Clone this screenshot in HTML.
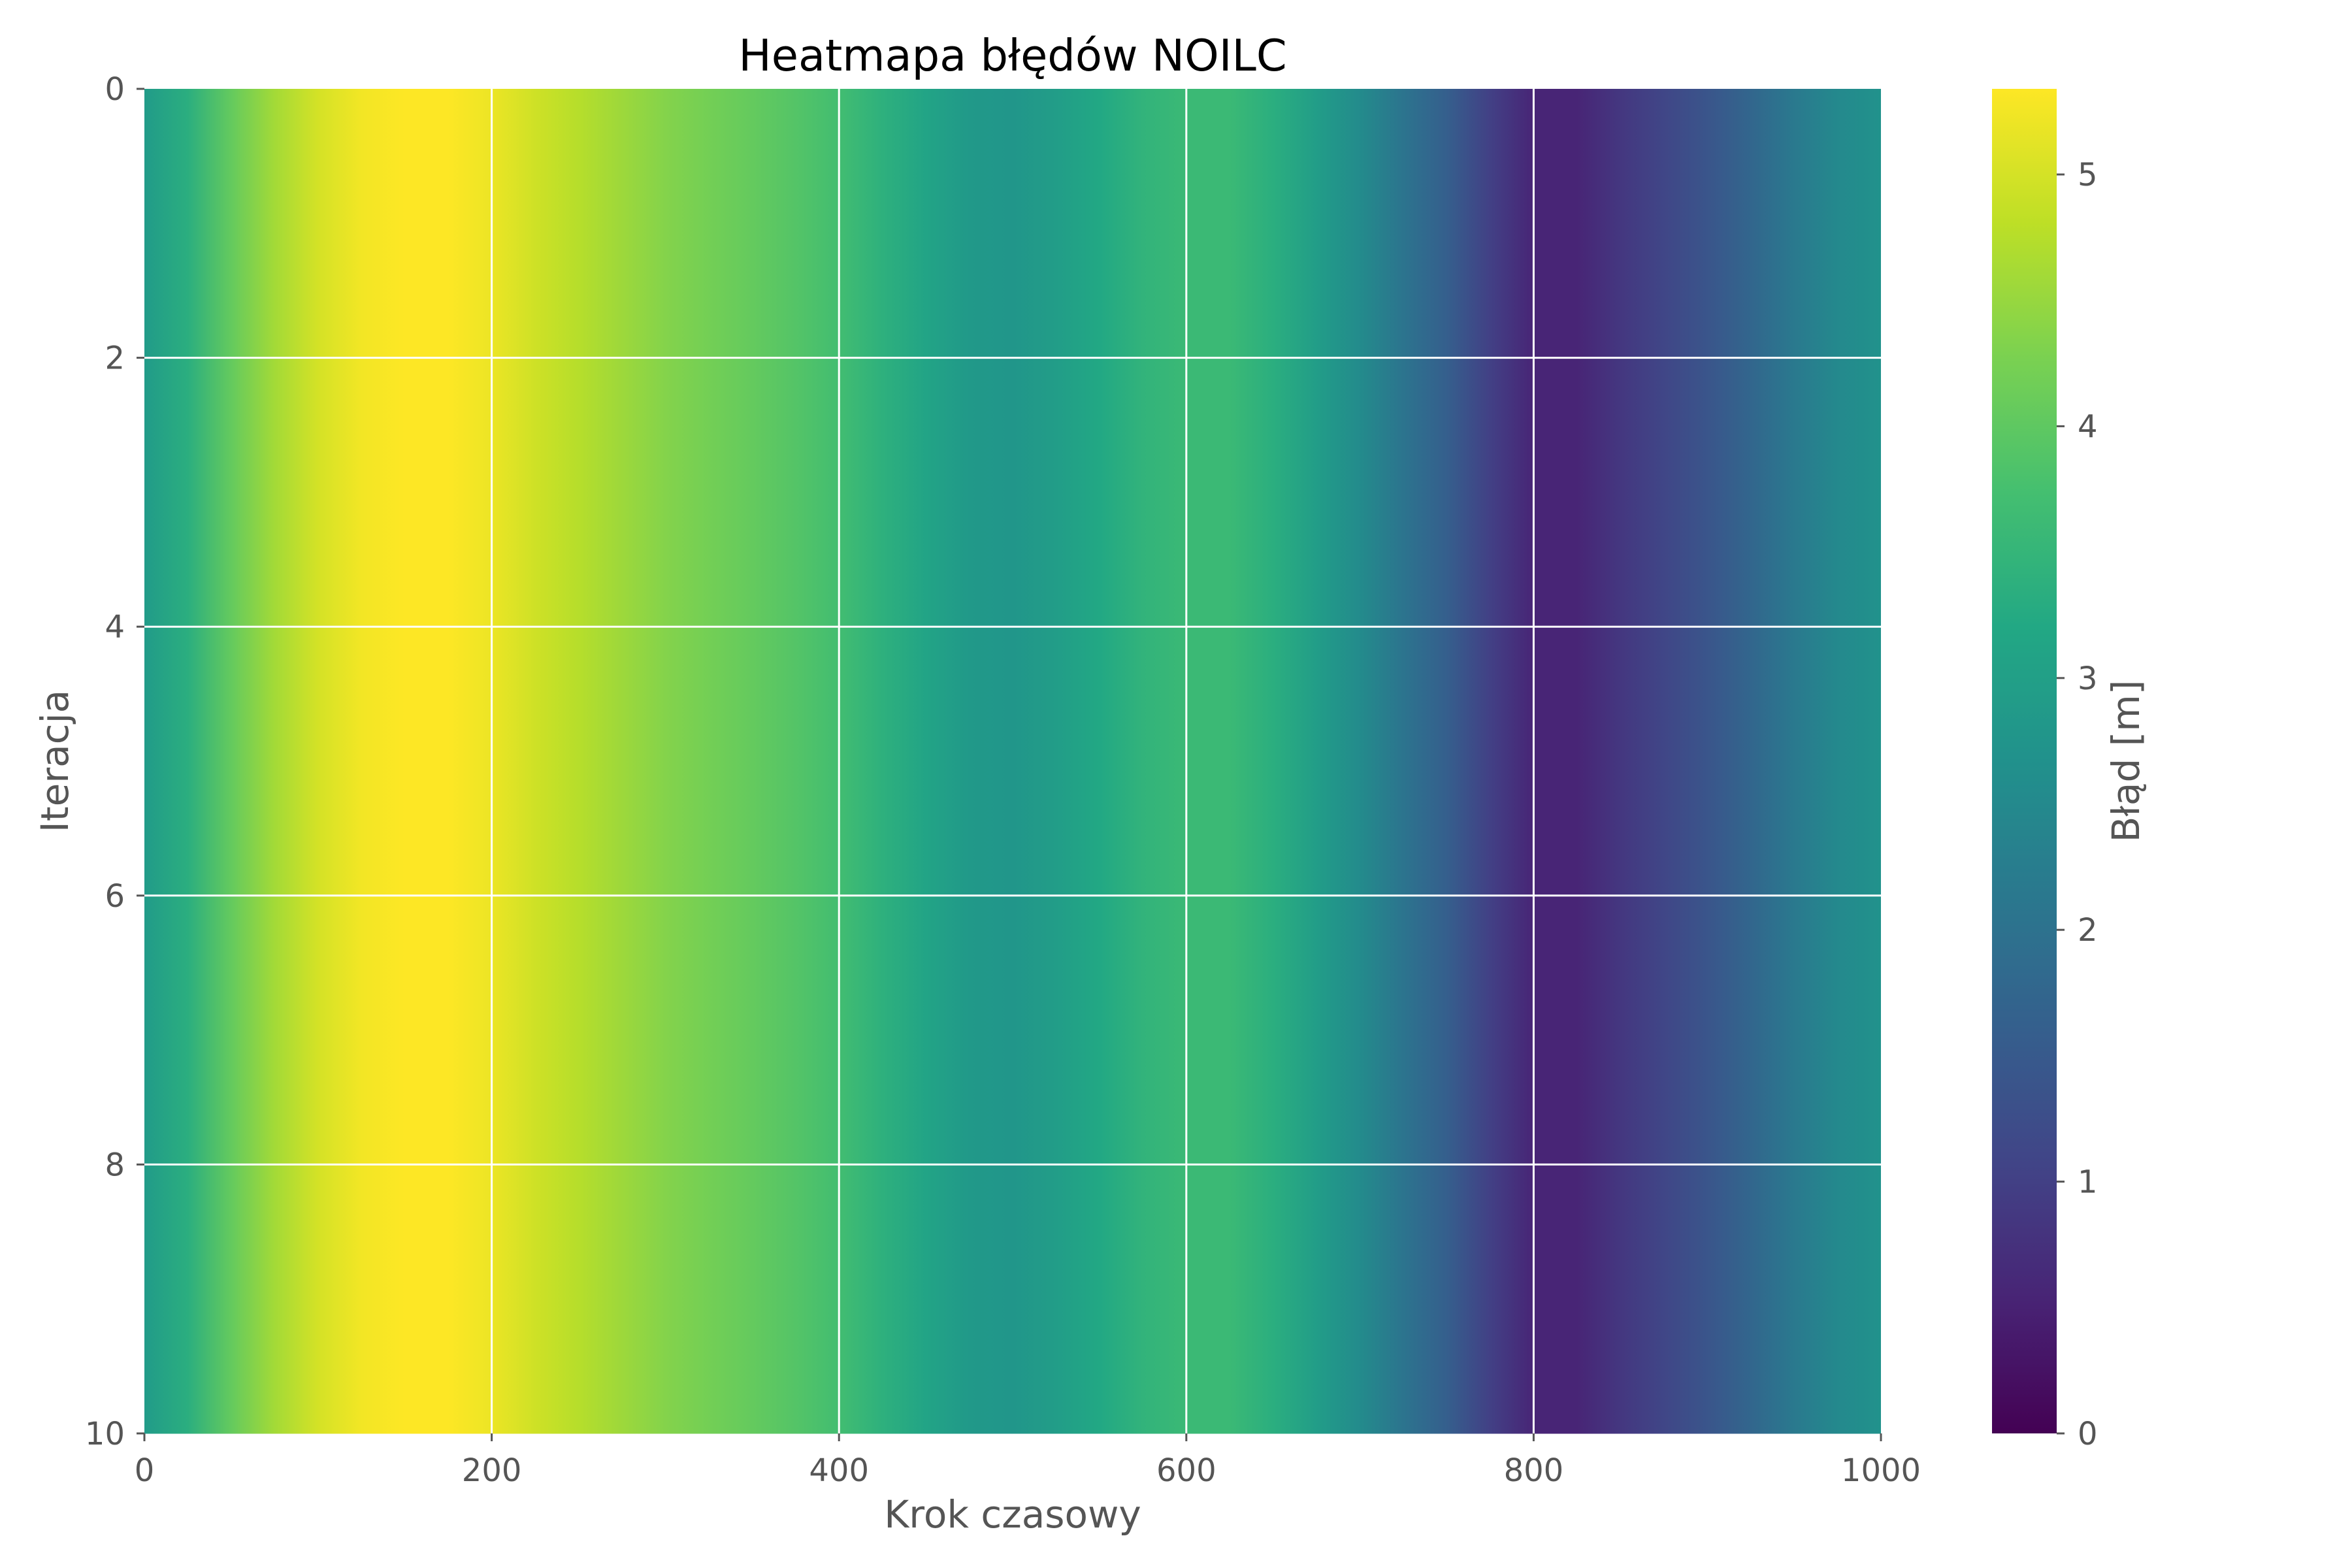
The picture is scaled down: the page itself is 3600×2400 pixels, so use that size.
<!DOCTYPE html>
<html><head><meta charset="utf-8"><style>
html,body{margin:0;padding:0;background:#fff;}
svg{display:block;font-family:"DejaVu Sans","Liberation Sans",sans-serif;}
</style></head><body>
<svg id="chart" width="3600" height="2400" viewBox="0 0 3600 2400" xmlns="http://www.w3.org/2000/svg">
<defs id="defs"></defs>
<text x="1550" y="108" font-size="67" text-anchor="middle" fill="#000">Heatmapa błędów NOILC</text>
<g id="heat"></g>
<g id="grid"></g>
<g id="axes"></g>
<text x="1550" y="2338" font-size="58" text-anchor="middle" fill="#555">Krok czasowy</text>
<text transform="translate(104,1165) rotate(-90)" font-size="58" text-anchor="middle" fill="#555">Iteracja</text>
<g id="cbar"></g>
<text transform="translate(3274,1165) rotate(-90)" font-size="58" text-anchor="middle" fill="#555">Błąd [m]</text>
</svg>
<script>
const steps = [0,25,50,75,100,125,150,175,200,225,250,275,300,325,350,375,400,425,450,475,500,525,550,575,600,625,650,675,700,725,750,775,800,825,850,875,900,925,950,975,1000];
const errorProfile = [2.9,3.35,4.05,4.6,5.0,5.25,5.34,5.34,5.2,4.95,4.75,4.55,4.35,4.2,4.05,3.9,3.7,3.4,3.1,2.85,2.78,2.95,3.2,3.45,3.6,3.6,3.35,2.95,2.55,2.05,1.6,1.0,0.55,0.55,0.85,1.1,1.4,1.75,2.15,2.5,2.7];
const iterations = [0,1,2,3,4,5,6,7,8,9];
const xTicks = [0,200,400,600,800,1000];
const yTicks = [0,2,4,6,8,10];
const cbTicks = [0,1,2,3,4,5];
const vmin = 0, vmax = 5.34;

const L=221,R=2879,T=136,B=2194;
const xs = v => L + (v-0)/(1000-0)*(R-L);
const ys = v => T + v/10*(B-T);
const CBL=3049,CBR=3148;
const cs = v => B - (v-vmin)/(vmax-vmin)*(B-T);
const NS="http://www.w3.org/2000/svg";
const vir=["#440154","#482475","#414487","#355f8d","#2a788e","#21918c","#22a884","#44bf70","#7ad151","#bddf26","#fde725"];
function hx(h){return [1,3,5].map(i=>parseInt(h.substr(i,2),16));}
function viridis(t){t=Math.max(0,Math.min(1,t));const p=t*10,i=Math.min(9,Math.floor(p)),f=p-i;const a=hx(vir[i]),b=hx(vir[i+1]);return "rgb("+a.map((c,k)=>Math.round(c+(b[k]-c)*f)).join(",")+")";}
function el(tag,attrs,parent){const e=document.createElementNS(NS,tag);for(const k in attrs)e.setAttribute(k,attrs[k]);parent.appendChild(e);return e;}

const defs=document.getElementById('defs');
const grad=el('linearGradient',{id:'rowGrad',x1:0,x2:1,y1:0,y2:0},defs);
steps.forEach((s,i)=>{el('stop',{offset:(s/1000),'stop-color':viridis((errorProfile[i]-vmin)/(vmax-vmin))},grad);});
const cg=el('linearGradient',{id:'cbGrad',x1:0,x2:0,y1:1,y2:0},defs);
for(let i=0;i<=40;i++){el('stop',{offset:i/40,'stop-color':viridis(i/40)},cg);}

const heat=document.getElementById('heat');
iterations.forEach(it=>{
  const r=el('rect',{x:xs(0),y:ys(it),width:xs(1000)-xs(0),height:ys(it+1)-ys(it)+0.5,fill:'url(#rowGrad)'},heat);
  
  
});
const grid=document.getElementById('grid');
xTicks.forEach(v=>{if(v>0&&v<1000){const l=el('line',{x1:xs(v),x2:xs(v),y1:T,y2:B,stroke:'#fff','stroke-width':3},grid);
  
  }});
yTicks.forEach(v=>{if(v>0&&v<10){const l=el('line',{x1:L,x2:R,y1:ys(v),y2:ys(v),stroke:'#fff','stroke-width':3},grid);
  
  }});
const axes=document.getElementById('axes');
xTicks.forEach(v=>{
  el('line',{x1:xs(v),x2:xs(v),y1:B,y2:B+12,stroke:'#555','stroke-width':3},axes);
  const t=el('text',{x:xs(v),y:B+73,'font-size':48,'text-anchor':'middle',fill:'#555'},axes);t.textContent=v;
  
  
});
yTicks.forEach(v=>{
  el('line',{x1:L-12,x2:L,y1:ys(v),y2:ys(v),stroke:'#555','stroke-width':3},axes);
  const t=el('text',{x:L-30,y:ys(v)+17,'font-size':48,'text-anchor':'end',fill:'#555'},axes);t.textContent=v;
  
  
});
const cbar=document.getElementById('cbar');
el('rect',{x:CBL,y:T,width:CBR-CBL,height:B-T,fill:'url(#cbGrad)'},cbar);
cbTicks.forEach(v=>{
  el('line',{x1:CBR,x2:CBR+12,y1:cs(v),y2:cs(v),stroke:'#555','stroke-width':3},cbar);
  const t=el('text',{x:CBR+32,y:cs(v)+17,'font-size':48,fill:'#555'},cbar);t.textContent=v;
  
  
});
</script>
</body></html>
